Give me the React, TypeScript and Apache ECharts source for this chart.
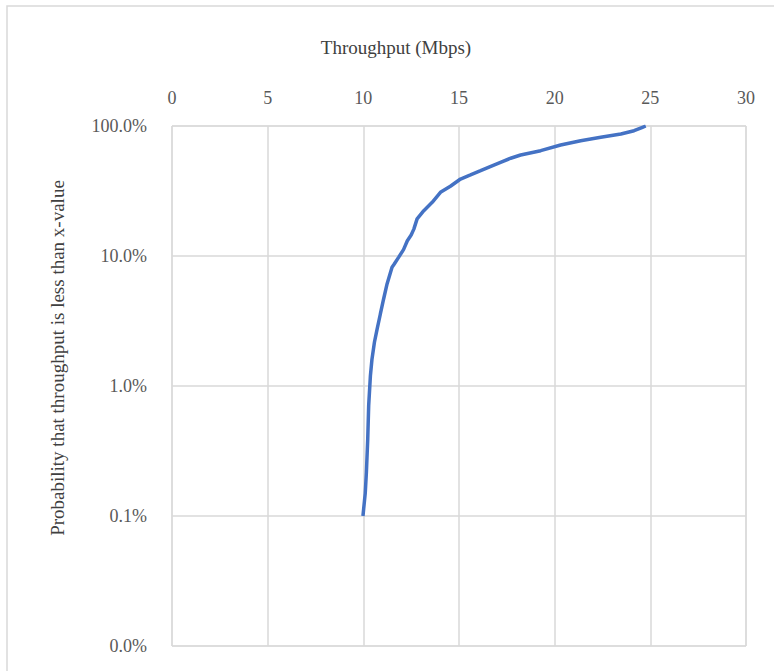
import React, { useEffect, useRef } from "react";
import * as echarts from "echarts";

// Throughput (Mbps) and cumulative probability (%)
const throughput = [
  9.98, 10.1, 10.16, 10.23, 10.28, 10.37, 10.45, 10.58, 10.72, 10.89, 11.06, 11.24,
  11.5, 11.6, 11.85, 12.1, 12.3, 12.5, 12.64, 12.81, 13.16, 13.6, 14.03, 14.55,
  15.08, 15.6, 16.13, 16.6, 17.17, 17.7, 18.22, 19.27, 20.31, 21.36, 22.41, 23.46,
  24.15, 24.59, 24.76,
];
const probabilityPct = [
  0.1, 0.15, 0.217, 0.39, 0.71, 1.2, 1.6, 2.17, 2.74, 3.58, 4.67, 6.1,
  8.2, 8.6, 9.8, 11.2, 13.1, 14.5, 16.1, 19.3, 22.3, 25.9, 30.9, 34.4,
  39.1, 42.0, 45.3, 48.5, 52.6, 56.5, 59.8, 64.6, 71.4, 77.1, 81.8, 86.8,
  92.0, 97.7, 100,
];

const xTitle = "Throughput (Mbps)";
const yTitle = "Probability that throughput is less than x-value";

const FONT = "Liberation Serif";
const TEXT = "#595959";
const TITLE = "#404040";
const GRID = "#d9d9d9";

export default function App() {
  const ref = useRef<HTMLDivElement>(null);
  useEffect(() => {
    if (!ref.current) return;
    const chart = echarts.init(ref.current, null, { renderer: "svg" });
    const data = throughput.map((x, i) => [x, probabilityPct[i] / 100]);
    chart.setOption({
      animation: false,
      backgroundColor: "#ffffff",
      textStyle: { fontFamily: FONT },
      graphic: [
        {
          type: "rect",
          shape: { x: 7, y: 6, width: 820, height: 720 },
          style: { fill: "none", stroke: GRID, lineWidth: 1.5 },
          silent: true,
        },
        {
          type: "text",
          x: 396,
          y: 47,
          style: {
            text: xTitle,
            fontFamily: FONT,
            fontSize: 19,
            fill: TITLE,
            align: "center",
            verticalAlign: "middle",
          },
        },
        {
          type: "text",
          x: 57,
          y: 358,
          rotation: Math.PI / 2,
          style: {
            text: yTitle,
            fontFamily: FONT,
            fontSize: 19,
            fill: TITLE,
            align: "center",
            verticalAlign: "middle",
          },
        },
      ],
      grid: {
        left: 172,
        top: 126,
        width: 574,
        height: 520,
        show: true,
        borderColor: GRID,
        borderWidth: 1,
      },
      xAxis: {
        type: "value",
        position: "top",
        min: 0,
        max: 30,
        interval: 5,
        axisLine: { show: false },
        axisTick: { show: false },
        axisLabel: { fontFamily: FONT, fontSize: 18, color: TEXT, margin: 19 },
        splitLine: { show: true, lineStyle: { color: GRID, width: 1.5 } },
      },
      yAxis: {
        type: "log",
        logBase: 10,
        min: 0.0001,
        max: 1,
        axisLine: { show: false },
        axisTick: { show: false },
        axisLabel: {
          fontFamily: FONT,
          fontSize: 18,
          color: TEXT,
          margin: 25,
          formatter: (v: number) => (v * 100).toFixed(1) + "%",
        },
        splitLine: { show: true, lineStyle: { color: GRID, width: 1.5 } },
      },
      series: [
        {
          type: "line",
          data,
          showSymbol: false,
          symbol: "none",
          lineStyle: { color: "#4472c4", width: 3.5 },
          itemStyle: { color: "#4472c4" },
        },
      ],
    });
    return () => chart.dispose();
  }, []);
  return (
    <div
      ref={ref}
      style={{ position: "absolute", left: 0, top: 0, width: 774, height: 671 }}
    />
  );
}
